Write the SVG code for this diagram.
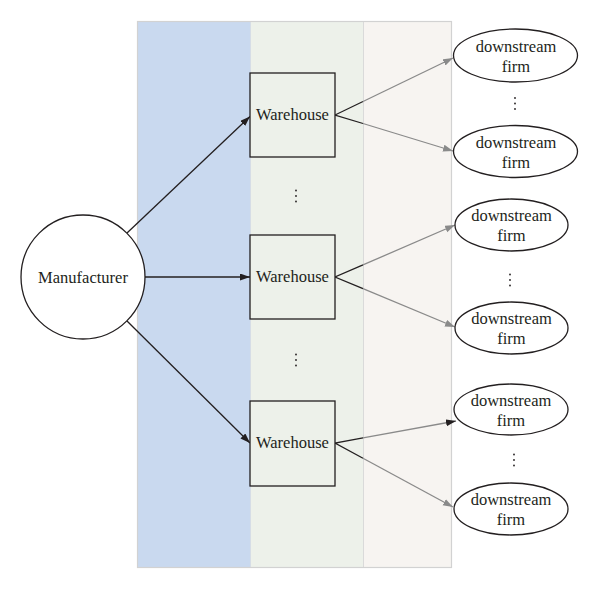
<svg xmlns="http://www.w3.org/2000/svg" width="600" height="590" viewBox="0 0 600 590">
<style>
text{font-family:"Liberation Serif","Times New Roman",serif;font-size:16.5px;fill:#231f20;text-anchor:middle}
.node{fill:#fff;stroke:#231f20;stroke-width:1.3}
.box{fill:#edf1ea;stroke:#231f20;stroke-width:1.3}
.k{stroke:#231f20;stroke-width:1.3;fill:none}
.g{stroke:#8a8a8a;stroke-width:1.3;fill:none}
.dots{fill:#231f20}
</style>
<defs>
<marker id="ak" markerUnits="userSpaceOnUse" markerWidth="11" markerHeight="8" refX="10" refY="3.5" orient="auto"><path d="M0,0 L10,3.5 L0,7 z" fill="#231f20"/></marker>
<marker id="ag" markerUnits="userSpaceOnUse" markerWidth="11" markerHeight="8" refX="10" refY="3.5" orient="auto"><path d="M0,0 L10,3.5 L0,7 z" fill="#8a8a8a"/></marker>
</defs>
<g id="panels">
<rect x="137.5" y="21.5" width="113" height="546" fill="#c9d9ef"/>
<rect x="250.5" y="21.5" width="113" height="546" fill="#edf1ea"/>
<rect x="363.5" y="21.5" width="88" height="546" fill="#f7f4f1"/>
<line x1="250.5" y1="21.5" x2="250.5" y2="567.5" stroke="#d6dde6" stroke-width="1"/>
<line x1="363.5" y1="21.5" x2="363.5" y2="567.5" stroke="#dadada" stroke-width="1"/>
<rect x="137.5" y="21.5" width="314" height="546" fill="none" stroke="#d2d2d2" stroke-width="1.2"/>
</g>
<g id="connectors">
<line class="k" x1="127" y1="233" x2="250" y2="116.5" marker-end="url(#ak)"/>
<line class="k" x1="145" y1="277" x2="250" y2="277" marker-end="url(#ak)"/>
<line class="k" x1="127" y1="321" x2="250" y2="443" marker-end="url(#ak)"/>
<polyline class="k" points="363,101.5 335,115 363,123.5"/>
<line class="g" x1="363" y1="101.5" x2="453" y2="58" marker-end="url(#ag)"/>
<line class="g" x1="363" y1="123.5" x2="453" y2="151" marker-end="url(#ag)"/>
<polyline class="k" points="363,264.9 335,277 363,288.7"/>
<line class="g" x1="363" y1="264.9" x2="455" y2="225" marker-end="url(#ag)"/>
<line class="g" x1="363" y1="288.7" x2="455" y2="327" marker-end="url(#ag)"/>
<polyline class="k" points="363,437.9 335,443 363,458.2"/>
<line class="g" x1="363" y1="437.9" x2="456" y2="421" marker-end="url(#ak)"/>
<line class="g" x1="363" y1="458.2" x2="453" y2="507" marker-end="url(#ag)"/>
</g>
<g id="manufacturer">
<circle class="node" cx="83" cy="277" r="62"/>
<text x="83" y="282.5">Manufacturer</text>
</g>
<g id="warehouse1">
<rect class="box" x="250" y="73" width="85" height="84"/>
<text x="292.5" y="120">Warehouse</text>
</g>
<g id="warehouse2">
<rect class="box" x="250" y="235" width="85" height="84"/>
<text x="292.5" y="282">Warehouse</text>
</g>
<g id="warehouse3">
<rect class="box" x="250" y="401" width="85" height="85"/>
<text x="292.5" y="448">Warehouse</text>
</g>
<g id="firm1">
<ellipse class="node" cx="515.5" cy="55.5" rx="62" ry="26.5"/>
<text x="516" y="51.5">downstream</text><text x="516" y="71.5">firm</text>
</g>
<g id="firm2">
<ellipse class="node" cx="515.5" cy="151.5" rx="62" ry="26"/>
<text x="516" y="147.5">downstream</text><text x="516" y="167.5">firm</text>
</g>
<g id="firm3">
<ellipse class="node" cx="511.5" cy="225" rx="56.5" ry="26"/>
<text x="511.5" y="221">downstream</text><text x="511.5" y="241">firm</text>
</g>
<g id="firm4">
<ellipse class="node" cx="511.5" cy="328" rx="56.5" ry="26"/>
<text x="511.5" y="324">downstream</text><text x="511.5" y="344">firm</text>
</g>
<g id="firm5">
<ellipse class="node" cx="511" cy="409.5" rx="57" ry="25.5"/>
<text x="511" y="405.5">downstream</text><text x="511" y="425.5">firm</text>
</g>
<g id="firm6">
<ellipse class="node" cx="511" cy="509" rx="57" ry="26"/>
<text x="511" y="505">downstream</text><text x="511" y="525">firm</text>
</g>
<g id="ellipses" class="dots">
<circle cx="296" cy="190.5" r="0.9"/><circle cx="296" cy="196" r="0.9"/><circle cx="296" cy="201.5" r="0.9"/>
<circle cx="296" cy="354.5" r="0.9"/><circle cx="296" cy="360" r="0.9"/><circle cx="296" cy="365.5" r="0.9"/>
<circle cx="515" cy="98" r="0.9"/><circle cx="515" cy="103.5" r="0.9"/><circle cx="515" cy="109" r="0.9"/>
<circle cx="510" cy="274.5" r="0.9"/><circle cx="510" cy="280" r="0.9"/><circle cx="510" cy="285.5" r="0.9"/>
<circle cx="514" cy="454.5" r="0.9"/><circle cx="514" cy="460" r="0.9"/><circle cx="514" cy="465.5" r="0.9"/>
</g>
</svg>
